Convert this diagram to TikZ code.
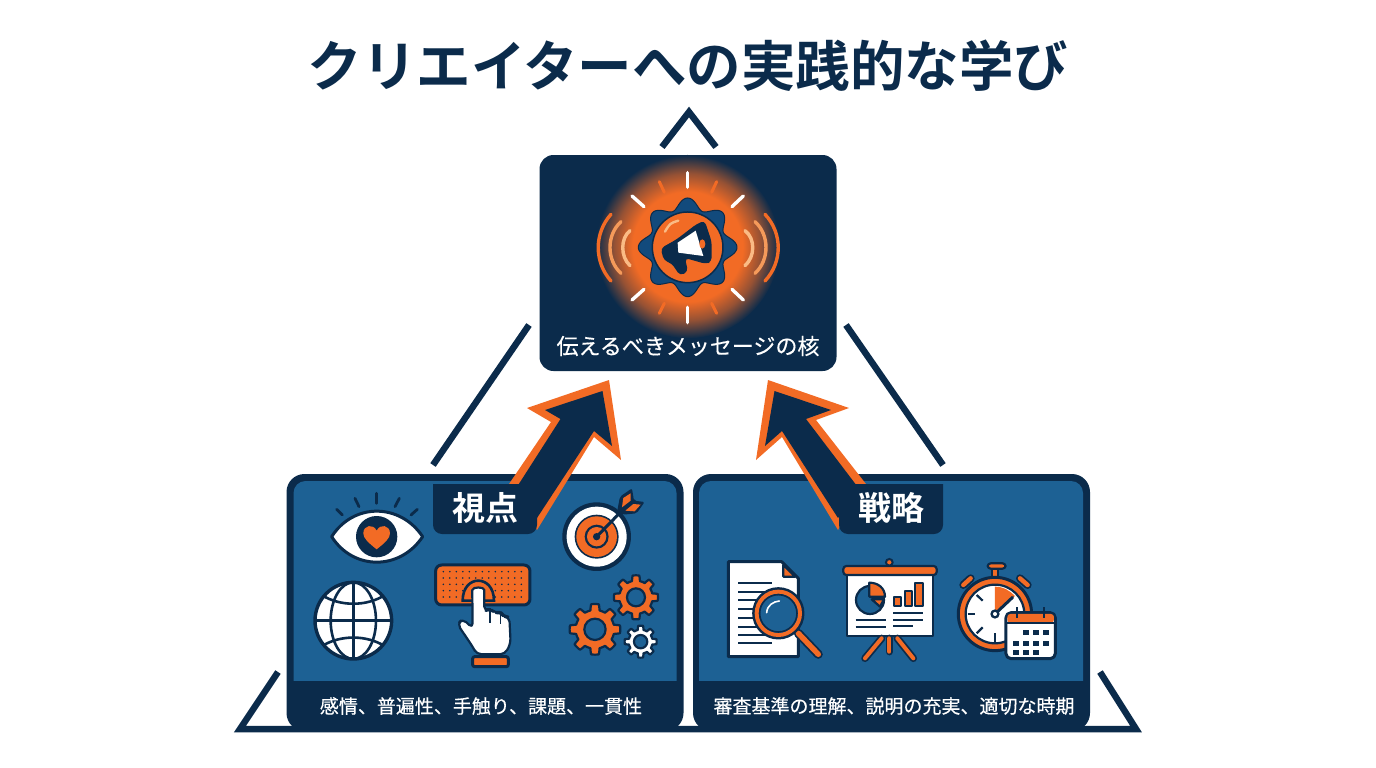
\documentclass[tikz,border=0pt]{standalone}
\usepackage{fontspec}
\setmainfont{Noto Sans CJK JP}[BoldFont={Noto Sans CJK JP Bold}]
\newfontfamily\medfont{Noto Sans CJK JP}[FakeBold=0.35]
\usetikzlibrary{positioning}
\definecolor{navy}{HTML}{0B2B4B}
\definecolor{panelblue}{HTML}{1D6194}
\definecolor{accent}{HTML}{F26B25}
\definecolor{softorange}{HTML}{F59A5A}
\definecolor{paleorange}{HTML}{FABB85}
\definecolor{gearblue}{HTML}{124A7C}
\pgfdeclareradialshading{coreglow}{\pgfpointorigin}{%
  color(0bp)=(accent);color(15bp)=(accent);color(20bp)=(accent!60!navy);color(25bp)=(navy);color(50bp)=(navy)}
\tikzset{
  panelbox/.style={draw=none, fill=navy, rounded corners=18pt, minimum width=397pt, minimum height=257pt, inner sep=0pt},
  cardtext/.style={text=white, font=\medfont\fontsize{19}{19}\selectfont},
  tablabel/.style={text=white, font=\fontsize{33}{33}\selectfont\bfseries},
  iconline/.style={draw=navy, line width=2.2pt, line join=round},
  iconthick/.style={draw=navy, line width=3pt, line join=round},
  stroke/.style={line cap=round, line width=#1},
  leftzoom/.style={shift={(280,470)}, x=.3333pt, y=-.3333pt},
  rightzoom/.style={shift={(690,470)}, x=.3333pt, y=-.3333pt},
  corezoom/.style={shift={(530,100)}, x=.3333pt, y=-.3333pt},
}
% toothed wheel: style, x, y, outer, inner, teeth, hole
\newcommand{\cogwheel}[7]{%
  \draw[#1] plot[domain=0:360, samples=241]
    ({#2+(#5+(#4-#5)*max(0,min(1,0.5+1.5*cos(#6*\x))))*cos(\x)},
     {#3+(#5+(#4-#5)*max(0,min(1,0.5+1.5*cos(#6*\x))))*sin(\x)}) -- cycle;
  \draw[iconline, fill=panelblue] (#2,#3) circle (#7);
}
\begin{document}
\begin{tikzpicture}[x=1pt, y=-1pt]
  \useasboundingbox (0,0) rectangle (1376,768);

  % Title
  \node[font=\fontsize{54.5}{54.5}\selectfont\bfseries, text=navy] (title) at (688,66) {クリエイターへの実践的な学び};

  % Big triangle behind everything
  \draw[navy, line width=6.5pt, line join=miter] (662,147) -- (689,112) -- (716,147);
  \draw[navy, line width=6.5pt] (529,325) -- (433,465);
  \draw[navy, line width=6.5pt] (846,325) -- (943,465);
  \draw[navy, line width=6.5pt, line join=miter] (278,672) -- (240,729) -- (1136,729) -- (1100,672);

  % Lower panels
  \node[panelbox] (viewpanel) at (485,602.5) {};
  \node[panelbox] (planpanel) at (891.5,602.5) {};
  \fill[panelblue, rounded corners=12pt] (293.5,481) rectangle (676.5,700);
  \fill[panelblue, rounded corners=12pt] (699,481) rectangle (1083,700);
  \fill[navy] (292,681) rectangle (678,705);
  \fill[navy] (698,681) rectangle (1084,705);
  \node[cardtext] (viewtext) at (481,706) {感情、普遍性、手触り、課題、一貫性};
  \node[cardtext] (plantext) at (894,706) {審査基準の理解、説明の充実、適切な時期};

  % Arrows up to the core box
  \fill[accent] (609,380) -- (621,460) -- (594,437) -- (537,530) -- (520,500) -- (509,484) -- (551,422) -- (527,408) -- cycle;
  \fill[navy] (602.5,391) -- (612,446) -- (594,431) -- (537,518) -- (515,490) -- (560.5,419) -- (545,410) -- cycle;
  \fill[accent] (768,380) -- (756,460) -- (782,437) -- (838,530) -- (855,500) -- (866,484) -- (816,420) -- (849,408) -- cycle;
  \fill[navy] (774.5,391) -- (765,446) -- (782,431) -- (838,518) -- (860,490) -- (806,419) -- (831,410) -- cycle;

  % Tabs on top of the arrows
  \fill[navy, rounded corners=9pt] (433,484) -- (433,534) -- (537,534) [sharp corners] -- (537,484) -- cycle;
  \fill[navy, rounded corners=9pt] (839,484) -- (839,534) -- (943,534) [sharp corners] -- (943,484) -- cycle;
  \node[tablabel] (viewtab) at (485,508) {視点};
  \node[tablabel] (plantab) at (891,508) {戦略};

  % Core box
  \node[fill=navy, rounded corners=14pt, minimum width=297pt, minimum height=216pt, inner sep=0pt] (corebox) at (688,263) {};
  \node[text=white, font=\medfont\fontsize{22}{22}\selectfont] (coretext) at (688,346) {伝えるべきメッセージの核};

  % Core icon
  \begin{scope}[corezoom]
    \shade[shading=coreglow] (473,440) circle (275);
    \foreach \a/\b/\c/\d in {473/218/473/262, 473/622/473/668, 306/288/342/320, 640/288/606/320, 306/600/342/568, 640/600/606/568}
      \draw[white, stroke=3.4pt] (\a,\b) -- (\c,\d);
    \foreach \a/\b/\c/\d in {388/245/403/277, 560/245/545/277, 388/640/403/610, 560/640/545/610}
      \draw[accent, stroke=3pt] (\a,\b) -- (\c,\d);
    \draw[accent, stroke=3.4pt] (243,343) .. controls (192,400) and (192,486) .. (243,543);
    \draw[softorange, stroke=3.4pt] (273,365) .. controls (229,405) and (229,480) .. (273,520);
    \draw[paleorange, stroke=3.4pt] (300,392) .. controls (271,415) and (271,470) .. (300,497);
    \draw[paleorange, stroke=3.4pt] (645,392) .. controls (676,415) and (676,470) .. (645,497);
    \draw[softorange, stroke=3.4pt] (675,365) .. controls (719,405) and (719,480) .. (675,520);
    \draw[accent, stroke=3.4pt] (705,343) .. controls (758,400) and (758,486) .. (705,543);
    \draw[navy, line width=1pt, fill=gearblue] plot[domain=0:360, samples=241]
      ({473+(132+16*cos(8*\x))*cos(\x)}, {442+(132+16*cos(8*\x))*sin(\x)}) -- cycle;
    \draw[navy, line width=1.5pt, fill=accent] (473,442) circle (106);
    \draw[paleorange, stroke=2.4pt] (405,395) .. controls (420,370) .. (445,362);
    \fill[navy, rounded corners=4pt] (392,445) -- (440,418) -- (500,372) -- (524,362) -- (545,425) -- (545,485) -- (528,492) -- (465,474) -- (474,515) -- (450,527) -- (425,490) -- (402,482) -- cycle;
    \fill[white] (443,428) -- (497,392) -- (520,468) -- (445,458) -- cycle;
    \fill[accent] (517,432) ellipse (9 and 14);
  \end{scope}

  % Viewpoint icons
  \begin{scope}[leftzoom]
    % eye
    \foreach \a/\b/\c/\d in {170/118/187/135, 225/85/237/110, 290/70/290/100, 358/85/345/110, 412/118/393/135}
      \draw[navy, stroke=2.8pt] (\a,\b) -- (\c,\d);
    \draw[navy, line width=3pt, fill=white, line join=round] (155,200) .. controls (220,98) and (360,98) .. (428,200) .. controls (360,302) and (220,302) .. cycle;
    \fill[navy] (290,200) circle (62);
    \fill[accent] (290,238) .. controls (265,218) and (250,205) .. (250,190) .. controls (250,165) and (280,160) .. (290,182) .. controls (300,160) and (330,165) .. (330,190) .. controls (330,205) and (315,218) .. cycle;
    % target
    \fill[navy] (950,200) circle (103);
    \fill[white] (950,200) circle (90);
    \fill[navy] (950,200) circle (66);
    \fill[accent] (950,200) circle (61);
    \fill[navy] (950,200) circle (36);
    \fill[accent] (950,200) circle (29);
    \fill[navy] (950,200) circle (11);
    \draw[navy, line width=3pt] (950,200) -- (1030,118);
    \fill[navy, rounded corners=2pt] (1012,122) -- (1020,80) -- (1056,55) -- (1062,92) -- (1094,96) -- (1070,130) -- (1028,134) -- cycle;
    \fill[accent] (1026,112) -- (1030,84) -- (1052,70) -- (1052,92) -- cycle;
    \fill[accent] (1036,122) -- (1060,102) -- (1082,104) -- (1064,124) -- cycle;
    % globe
    \begin{scope}
      \draw[navy, line width=3.4pt, fill=white] (220,452) circle (115);
      \clip (220,452) circle (115);
      \draw[navy, line width=2.6pt] (220,337) -- (220,567);
      \draw[navy, line width=2.6pt] (105,452) -- (335,452);
      \draw[navy, line width=2.6pt] (220,452) ellipse (68 and 115);
      \draw[navy, line width=2.6pt] (125,375) .. controls (180,410) and (260,410) .. (315,375);
      \draw[navy, line width=2.6pt] (125,529) .. controls (180,494) and (260,494) .. (315,529);
    \end{scope}
    % button and hand
    \draw[iconthick, fill=accent, rounded corners=6pt] (467,285) rectangle (750,405);
    \foreach \i in {0,...,12}
      \foreach \j in {0,...,4}
        \fill[navy] (490+\i*19.5,305+\j*19) circle (2.6);
    \draw[navy, line width=2.6pt, fill=accent] (548,392) .. controls (548,312) and (642,312) .. (642,392) -- cycle;
    \draw[iconline, fill=white, rounded corners=5pt] (577,375) .. controls (577,350) and (613,350) .. (613,375) -- (613,425) -- (630,415) -- (645,430) -- (662,425) -- (670,440) -- (688,440) -- (692,520) -- (675,553) -- (590,553) -- (578,530) -- (532,462) -- (548,446) -- (578,475) -- cycle;
    \draw[navy, line width=1.6pt] (630,415) -- (630,460);
    \draw[navy, line width=1.6pt] (662,425) -- (662,462);
    \draw[iconthick, fill=accent, rounded corners=2pt] (578,560) rectangle (685,590);
    % gears
    \cogwheel{iconline, fill=accent}{945}{478}{76}{58}{8}{32}
    \cogwheel{iconline, fill=accent}{1068}{382}{66}{50}{8}{27}
    \cogwheel{iconline, fill=white}{1082}{515}{48}{36}{8}{20}
  \end{scope}

  % Strategy icons
  \begin{scope}[rightzoom]
    % document and lens
    \draw[iconthick, fill=white] (115,275) -- (275,275) -- (325,325) -- (325,560) -- (115,560) -- cycle;
    \draw[iconline, fill=accent] (280,285) -- (280,320) -- (315,320) -- cycle;
    \foreach \y in {340,365,390,418,445,470,495,520}
      \draw[navy, line width=2.2pt] (145,\y) -- (245,\y);
    \draw[navy, line width=9pt, line cap=round] (325,490) -- (385,553);
    \draw[accent, line width=5.4pt, line cap=round] (325,490) -- (385,553);
    \draw[iconthick, fill=panelblue] (265,430) circle (74);
    \draw[accent, line width=4pt] (265,430) circle (65);
    \draw[navy, line width=1.6pt] (265,430) circle (56);
    \draw[white, stroke=1.6pt] (230,428) .. controls (232,405) and (250,395) .. (268,393);
    % easel
    \fill[accent, draw=navy, line width=2pt] (598,277) circle (10);
    \draw[iconline, fill=white] (470,315) rectangle (730,498);
    \draw[iconline, fill=accent, rounded corners=3pt] (460,288) rectangle (740,315);
    \foreach \a/\b in {575/525, 622/670}{
      \draw[navy, line width=7.5pt, line cap=round] (\a,505) -- (\b,565);
      \draw[accent, line width=4pt, line cap=round] (\a,505) -- (\b,565);
    }
    \draw[navy, line width=7.5pt, line cap=round] (598,505) -- (598,545);
    \draw[accent, line width=4pt, line cap=round] (598,505) -- (598,545);
    \draw[iconline, fill=panelblue] (540,390) circle (42);
    \draw[iconline, fill=accent] (538,380) -- (538,338) .. controls (565,338) and (585,355) .. (585,380) -- cycle;
    \draw[iconline, fill=accent] (545,388) -- (582,388) -- (570,410) -- cycle;
    \foreach \a/\b/\c in {612/632/380, 645/667/362, 675/700/340}
      \draw[iconline, fill=accent] (\a,\c) rectangle (\b,408);
    \foreach \a/\b/\c in {610/700/430, 610/700/450, 610/670/468, 497/587/450, 497/587/470}
      \draw[navy, line width=2pt] (\a,\c) -- (\b,\c);
    % stopwatch and calendar
    \draw[iconline, fill=accent] (905,295) rectangle (925,325);
    \draw[iconline, fill=accent, rounded corners=3pt] (893,280) rectangle (947,296);
    \draw[navy, line width=8pt, line cap=round] (820,345) -- (842,325);
    \draw[accent, line width=4.4pt, line cap=round] (820,345) -- (842,325);
    \draw[navy, line width=8pt, line cap=round] (990,325) -- (1013,345);
    \draw[accent, line width=4.4pt, line cap=round] (990,325) -- (1013,345);
    \draw[iconthick, fill=accent] (915,432) circle (110);
    \draw[iconline, fill=white] (915,432) circle (88);
    \fill[accent] (915,432) -- (915,350) .. controls (940,350) and (960,362) .. (975,378) -- cycle;
    \foreach \a/\b/\c/\d in {833/432/855/432, 860/375/878/392, 860/490/878/472, 915/515/915/490}
      \draw[navy, line width=2.2pt] (\a,\b) -- (\c,\d);
    \draw[navy, line width=3pt, line cap=round] (915,432) -- (968,382);
    \fill[navy] (915,432) circle (14);
    \fill[white] (915,432) circle (6);
    \draw[iconthick, fill=white, rounded corners=5pt] (948,428) rectangle (1096,566);
    \fill[accent, rounded corners=3pt] (952,432) rectangle (1092,458);
    \draw[navy, line width=2pt] (948,460) -- (1096,460);
    \foreach \x in {980,1062}
      \draw[navy, line width=2.2pt] (\x,412) -- (\x,444);
    \foreach \x/\y in {1000/480,1030/480,1060/480,970/512,1000/512,1030/512,1060/512,970/540,1000/540,1030/540}
      \fill[navy] (\x,\y) rectangle ++(18,16);
  \end{scope}
\end{tikzpicture}
\end{document}
